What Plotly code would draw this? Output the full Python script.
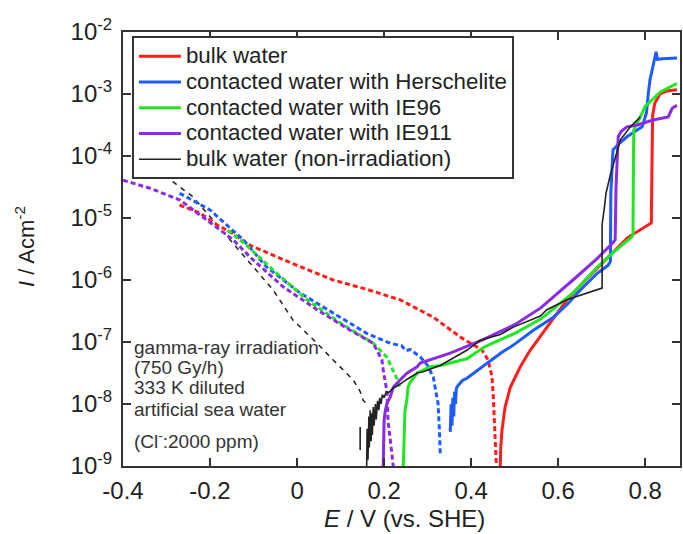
import plotly.graph_objects as go

# ---------------- data (E in V vs SHE, log10 of current density in A/cm2) ----------------
# cathodic (dashed) branches
red_cath_E = [-0.27, -0.223, -0.184, -0.15, -0.108, -0.012, 0.083, 0.16, 0.237, 0.313, 0.375, 0.398, 0.425, 0.439, 0.448, 0.451, 0.455, 0.458]
red_cath_logI = [-4.79, -4.92, -5.11, -5.24, -5.44, -5.73, -6.0, -6.15, -6.32, -6.6, -6.92, -7.02, -7.13, -7.29, -7.56, -7.89, -8.42, -9.0]

blue_cath_E = [-0.27, -0.2, -0.124, -0.07, 0.007, 0.083, 0.16, 0.214, 0.24, 0.25, 0.26, 0.283, 0.30, 0.313, 0.324, 0.327, 0.329]
blue_cath_logI = [-4.60, -4.87, -5.35, -5.79, -6.21, -6.53, -6.86, -7.02, -7.06, -7.14, -7.12, -7.24, -7.38, -7.57, -7.99, -8.4, -8.8]

green_cath_E = [-0.16, -0.124, -0.05, 0.023, 0.099, 0.175, 0.206, 0.221, 0.23, 0.235]
green_cath_logI = [-5.2, -5.39, -5.87, -6.32, -6.69, -7.02, -7.24, -7.45, -7.6, -7.72]

purple_cath_E = [-0.4, -0.338, -0.269, -0.2, -0.147, -0.108, -0.032, 0.046, 0.122, 0.175, 0.195, 0.198, 0.207, 0.209, 0.214, 0.218, 0.221]
purple_cath_logI = [-4.39, -4.52, -4.71, -5.08, -5.35, -5.63, -6.11, -6.48, -6.81, -7.02, -7.29, -7.45, -7.82, -8.26, -8.6, -8.8, -9.0]

black_cath_E = [-0.32, -0.3, -0.239, -0.2, -0.147, -0.108, -0.055, -0.009, 0.046, 0.083, 0.106, 0.129, 0.145, 0.152, 0.16]
black_cath_logI = [-4.2, -4.34, -4.66, -4.98, -5.40, -5.73, -6.16, -6.65, -7.02, -7.29, -7.45, -7.61, -7.8, -7.94, -8.0]

# anodic (solid) branches
red_an_E = [0.467, 0.468, 0.471, 0.478, 0.49, 0.513, 0.536, 0.574, 0.62, 0.667, 0.713, 0.759, 0.814, 0.816, 0.817, 0.822, 0.834, 0.85, 0.873]
red_an_logI = [-9.0, -8.7, -8.42, -8.05, -7.73, -7.40, -7.13, -6.76, -6.32, -5.97, -5.65, -5.32, -5.08, -4.0, -3.35, -3.15, -3.0, -2.95, -2.93]

blue_an_E = [0.352, 0.354, 0.356, 0.358, 0.36, 0.362, 0.364, 0.366, 0.37, 0.38, 0.391, 0.41, 0.437, 0.47, 0.497, 0.512, 0.543, 0.589, 0.62, 0.651, 0.69, 0.715, 0.72, 0.721, 0.724, 0.726, 0.74, 0.758, 0.793, 0.803, 0.807, 0.811, 0.818, 0.822, 0.825, 0.828, 0.84, 0.873]
blue_an_logI = [-8.45, -8.0, -8.35, -7.9, -8.2, -7.8, -8.0, -7.75, -7.7, -7.62, -7.58, -7.48, -7.34, -7.17, -7.05, -6.97, -6.81, -6.6, -6.4, -6.16, -5.89, -5.76, -5.7, -4.6, -4.2, -3.9, -3.8, -3.69, -3.53, -3.3, -3.0, -2.77, -2.55, -2.38, -2.32, -2.44, -2.43, -2.42]

green_an_E = [0.244, 0.246, 0.248, 0.252, 0.255, 0.26, 0.276, 0.306, 0.329, 0.39, 0.43, 0.50, 0.56, 0.574, 0.634, 0.69, 0.726, 0.77, 0.772, 0.773, 0.774, 0.79, 0.80, 0.834, 0.873]
green_an_logI = [-9.0, -8.6, -8.1, -7.95, -7.73, -7.65, -7.5, -7.4, -7.38, -7.27, -7.08, -6.86, -6.63, -6.55, -6.21, -5.79, -5.56, -5.3, -5.25, -4.0, -3.58, -3.35, -3.2, -2.97, -2.83]

purple_an_E = [0.198, 0.199, 0.2, 0.203, 0.207, 0.214, 0.221, 0.237, 0.253, 0.276, 0.283, 0.352, 0.425, 0.50, 0.56, 0.634, 0.69, 0.726, 0.731, 0.733, 0.738, 0.745, 0.758, 0.782, 0.818, 0.853, 0.862, 0.873]
purple_an_logI = [-9.0, -8.6, -8.26, -8.1, -7.98, -7.89, -7.73, -7.61, -7.5, -7.40, -7.34, -7.18, -6.97, -6.72, -6.45, -6.0, -5.65, -5.4, -5.35, -4.5, -3.69, -3.6, -3.53, -3.5, -3.42, -3.37, -3.23, -3.18]

black_an_E = [0.145, 0.145, None,
              0.16, 0.161, 0.163, 0.165, 0.166, 0.168, 0.17, 0.172, 0.173, 0.175, 0.177, 0.18, 0.182, 0.185, 0.188,
              0.19, 0.193, 0.196, 0.2, 0.205, 0.21, 0.22, 0.237, 0.253, 0.276, 0.29, 0.313, 0.329, 0.391, 0.421, 0.467,
              0.497, 0.559, 0.574, 0.62, 0.667, 0.69, 0.701, 0.701, 0.703, 0.706, 0.71, 0.713, 0.716, 0.72, 0.73, 0.743,
              0.766, 0.789]
black_an_logI = [-8.37, -8.74, None,
                 -9.0, -8.4, -8.9, -8.2, -8.7, -8.1, -8.6, -8.15, -8.5, -8.05, -8.35, -8.0, -8.25, -7.95, -8.1,
                 -7.9, -8.0, -7.85, -7.9, -7.8, -7.82, -7.75, -7.68, -7.6, -7.5, -7.48, -7.42, -7.38, -7.13, -6.97, -6.88,
                 -6.76, -6.58, -6.48, -6.32, -6.21, -6.16, -6.13, -5.1, -4.95, -4.85, -4.6, -4.5, -4.45, -4.3, -4.06, -3.74,
                 -3.53, -3.37]

legend_names = ["bulk water", "contacted water with Herschelite", "contacted water with IE96",
                "contacted water with IE911", "bulk water (non-irradiation)"]
x_tick_vals = [-0.4, -0.2, 0, 0.2, 0.4, 0.6, 0.8]
x_tick_text = ["-0.4", "-0.2", "0", "0.2", "0.4", "0.6", "0.8"]
y_tick_exps = [-2, -3, -4, -5, -6, -7, -8, -9]
note_lines = ["gamma-ray irradiation", "(750 Gy/h)", "333 K diluted", "artificial sea water",
              "(Cl<sup>-</sup>:2000 ppm)"]

# ---------------- figure ----------------
colors = ["#ff1e1e", "#1e5cff", "#22e622", "#8a2be6", "#222222"]


def to_I(vals):
    return [None if v is None else 10 ** v for v in vals]


cath = [(red_cath_E, red_cath_logI), (blue_cath_E, blue_cath_logI), (green_cath_E, green_cath_logI),
        (purple_cath_E, purple_cath_logI), (black_cath_E, black_cath_logI)]
anod = [(red_an_E, red_an_logI), (blue_an_E, blue_an_logI), (green_an_E, green_an_logI),
        (purple_an_E, purple_an_logI), (black_an_E, black_an_logI)]

fig = go.Figure()
for i in [4, 0, 1, 2, 3]:
    e, l = cath[i]
    black = i == 4
    fig.add_trace(go.Scatter(x=e, y=to_I(l), mode="lines", showlegend=False,
                             line=dict(color=colors[i], width=1.5 if black else 3,
                                       dash="5px,5px" if black else "5px,3px")))
for i in [0, 1, 2, 3, 4]:
    e, l = anod[i]
    black = i == 4
    fig.add_trace(go.Scatter(x=e, y=to_I(l), mode="lines",
                             name='<span style="font-size:22.3px">%s</span>' % legend_names[i],
                             connectgaps=False,
                             line=dict(color=colors[i], width=1.6 if black else 3)))

font_family = "Arial, 'Liberation Sans', Helvetica, sans-serif"

fig.update_layout(
    width=683, height=534,
    margin=dict(l=123, r=3, t=32, b=68, autoexpand=False),
    paper_bgcolor="white", plot_bgcolor="white",
    font=dict(family=font_family, color="#222222"),
    showlegend=True,
    legend=dict(x=0.016, y=0.99, xanchor="left", yanchor="top",
                bgcolor="white", bordercolor="#333333", borderwidth=2,
                font=dict(size=17.5, color="#222222"), tracegroupgap=0,
                itemwidth=42),
)
fig.update_xaxes(range=[-0.4, 0.88], tickmode="array", tickvals=x_tick_vals, ticktext=x_tick_text,
                 ticks="inside", ticklen=8, tickwidth=1.5, tickcolor="#333333",
                 showline=True, linecolor="#333333", linewidth=2, mirror="ticks",
                 showgrid=False, zeroline=False, tickfont=dict(size=24), ticklabelstandoff=2,
                 automargin=False)
fig.update_yaxes(type="log", range=[-9, -2], tickmode="array",
                 tickvals=[10 ** k for k in y_tick_exps],
                 ticktext=["10<sup>%d</sup>" % k for k in y_tick_exps],
                 ticks="inside", ticklen=8, tickwidth=1.5, tickcolor="#333333",
                 showline=True, linecolor="#333333", linewidth=2, mirror="ticks",
                 showgrid=False, zeroline=False, tickfont=dict(size=24), ticklabelstandoff=4,
                 automargin=False)

fig.add_annotation(text="<i>E</i> / V (vs. SHE)", xref="paper", yref="paper", x=0.506, y=-0.122,
                   xanchor="center", yanchor="middle", showarrow=False, font=dict(size=24, color="#222222"))
fig.add_annotation(text="<i>I</i> / Acm<sup>-2</sup>", xref="paper", yref="paper", x=-0.176, y=0.507,
                   xanchor="center", yanchor="middle", textangle=-90, showarrow=False,
                   font=dict(size=22, color="#222222"))

note_y = [0.272, 0.226, 0.180, 0.131, 0.060]
for t, yy in zip(note_lines, note_y):
    fig.add_annotation(text=t, xref="paper", yref="paper", x=0.016, y=yy, xanchor="left", yanchor="middle",
                       showarrow=False, font=dict(size=19, color="#333333"))

fig.write_html("out.html", config={"displayModeBar": False},
               post_script="document.body.style.margin='0px';")
